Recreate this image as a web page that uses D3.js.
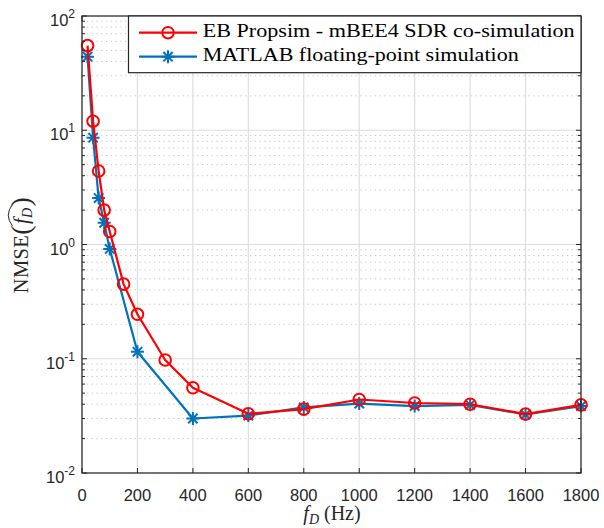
<!DOCTYPE html>
<html><head><meta charset="utf-8">
<script src="https://cdn.jsdelivr.net/npm/d3@7"></script>
<style>body{margin:0;background:#fff}</style>
</head><body>
<svg id="c" width="604" height="528"></svg>
<script>
const fD = [20, 40, 60, 80, 100, 150, 200, 300, 400, 600, 800, 1000, 1200, 1400, 1600, 1800];
const redVals = [55, 12, 4.4, 2.0, 1.30, 0.45, 0.245, 0.0975, 0.0557, 0.0330, 0.0362, 0.0440, 0.0410, 0.0400, 0.0328, 0.0395];
const blueVals = [44, 8.6, 2.55, 1.55, 0.915, null, 0.115, null, 0.0300, 0.0318, 0.0375, 0.0405, 0.0385, 0.0395, 0.0325, 0.0385];
const xTicks = [0, 200, 400, 600, 800, 1000, 1200, 1400, 1600, 1800];
const yExps = [-2, -1, 0, 1, 2];
const seriesNames = ["EB Propsim - mBEE4 SDR co-simulation", "MATLAB floating-point simulation"];

const svg = d3.select("#c");
const L = 82, R = 581, T = 16, B = 473;
const x = d3.scaleLinear().domain([0, 1800]).range([L, R]);
const y = d3.scaleLog().domain([0.01, 100]).range([B, T]);
const axisCol = "#262626";
const sans = "Liberation Sans, Arial, Helvetica, sans-serif";
const serif = "Liberation Serif, Times New Roman, serif";

// minor grid
const minorVals = [];
for (let e = -2; e < 2; e++) for (let k = 2; k <= 9; k++) minorVals.push(k * Math.pow(10, e));
svg.append("g").selectAll("line").data(minorVals).join("line")
  .attr("x1", L).attr("x2", R).attr("y1", d => y(d)).attr("y2", d => y(d))
  .attr("stroke", "#c8c8c8").attr("stroke-width", 1).attr("stroke-dasharray", "1.3,3.5");
// major grid
svg.append("g").selectAll("line").data(yExps.map(e => Math.pow(10, e))).join("line")
  .attr("x1", L).attr("x2", R).attr("y1", d => y(d)).attr("y2", d => y(d))
  .attr("stroke", "#dedede").attr("stroke-width", 1.2);
svg.append("g").selectAll("line").data(xTicks).join("line")
  .attr("x1", d => x(d)).attr("x2", d => x(d)).attr("y1", T).attr("y2", B)
  .attr("stroke", "#dedede").attr("stroke-width", 1.2);

// series
function drawMarker(g, cx, cy, color, marker) {
  if (marker === "o") {
    g.append("circle").attr("cx", cx).attr("cy", cy).attr("r", 5.8)
      .attr("fill", "none").attr("stroke", color).attr("stroke-width", 2);
  } else {
    const s = 6.5, d = s * 0.72;
    const p = `M${cx - s},${cy}L${cx + s},${cy}M${cx},${cy - s}L${cx},${cy + s}` +
      `M${cx - d},${cy - d}L${cx + d},${cy + d}M${cx - d},${cy + d}L${cx + d},${cy - d}`;
    g.append("path").attr("d", p).attr("stroke", color).attr("stroke-width", 2).attr("fill", "none");
  }
}
function drawSeries(vals, color, marker) {
  const pts = fD.map((f, i) => [f, vals[i]]).filter(p => p[1] != null);
  const line = d3.line().x(d => x(d[0])).y(d => y(d[1]));
  svg.append("path").datum(pts).attr("d", line).attr("fill", "none")
    .attr("stroke", color).attr("stroke-width", 2.2).attr("stroke-linejoin", "round");
  const g = svg.append("g");
  pts.forEach(p => drawMarker(g, x(p[0]), y(p[1]), color, marker));
}
drawSeries(blueVals, "#0072BD", "*");
drawSeries(redVals, "#FF0000", "o");

// axes frame and ticks
const ax = svg.append("g");
ax.append("rect").attr("x", L).attr("y", T).attr("width", R - L).attr("height", B - T)
  .attr("fill", "none").attr("stroke", axisCol).attr("stroke-width", 1.2);
xTicks.forEach(t => {
  ax.append("line").attr("x1", x(t)).attr("x2", x(t)).attr("y1", B).attr("y2", B - 5).attr("stroke", axisCol);
  ax.append("line").attr("x1", x(t)).attr("x2", x(t)).attr("y1", T).attr("y2", T + 5).attr("stroke", axisCol);
  ax.append("text").attr("x", x(t)).attr("y", 501).attr("text-anchor", "middle")
    .attr("font-family", sans).attr("font-size", 16.5).attr("fill", axisCol).text(t);
});
yExps.forEach(e => {
  const v = Math.pow(10, e);
  ax.append("line").attr("x1", L).attr("x2", L + 5).attr("y1", y(v)).attr("y2", y(v)).attr("stroke", axisCol);
  ax.append("line").attr("x1", R).attr("x2", R - 5).attr("y1", y(v)).attr("y2", y(v)).attr("stroke", axisCol);
  const t = ax.append("text").attr("x", L - 7).attr("y", y(v) + 10).attr("text-anchor", "end")
    .attr("font-family", sans).attr("font-size", 16.5).attr("fill", axisCol);
  t.append("tspan").text("10");
  t.append("tspan").attr("dy", -8).attr("font-size", 12).text(e);
});
minorVals.forEach(v => {
  ax.append("line").attr("x1", L).attr("x2", L + 3).attr("y1", y(v)).attr("y2", y(v)).attr("stroke", axisCol);
  ax.append("line").attr("x1", R).attr("x2", R - 3).attr("y1", y(v)).attr("y2", y(v)).attr("stroke", axisCol);
});

// legend
const lg = svg.append("g");
lg.append("rect").attr("x", 128.5).attr("y", T).attr("width", R - 128.5).attr("height", 56.7)
  .attr("fill", "#fff").attr("stroke", axisCol).attr("stroke-width", 1.2);
const legRows = [["#FF0000", "o", 32.7, 372], ["#0072BD", "*", 56.7, 316]];
legRows.forEach((s, i) => {
  lg.append("line").attr("x1", 139).attr("x2", 197).attr("y1", s[2]).attr("y2", s[2])
    .attr("stroke", s[0]).attr("stroke-width", 2.2);
  drawMarker(lg, 168, s[2], s[0], s[1]);
  lg.append("text").attr("x", 202.7).attr("y", s[2] + 4.5).attr("font-family", serif)
    .attr("font-size", 19.5).attr("fill", "#000")
    .attr("textLength", s[3]).attr("lengthAdjust", "spacingAndGlyphs").text(seriesNames[i]);
});

// x label
const xl = svg.append("text").attr("x", 332).attr("y", 520).attr("text-anchor", "middle")
  .attr("font-family", serif).attr("font-size", 20).attr("fill", axisCol);
xl.append("tspan").attr("font-style", "italic").text("f");
xl.append("tspan").attr("font-style", "italic").attr("font-size", 14).attr("dy", 4).text("D");
xl.append("tspan").attr("dy", -4).attr("dx", 5).text("(Hz)");

// y label
const yg = svg.append("g").attr("transform", "translate(28,245) rotate(-90)");
const yl = yg.append("text").attr("font-family", serif).attr("font-size", 20.5).attr("fill", axisCol)
  .attr("text-anchor", "middle").attr("letter-spacing", 0.4);
yl.append("tspan").text("NMSE");
yl.append("tspan").attr("font-size", 28).attr("dy", 2).text("(");
yl.append("tspan").attr("font-style", "italic").attr("dy", -2).attr("dx", 1).text("f");
yl.append("tspan").attr("font-style", "italic").attr("font-size", 14).attr("dy", 4).text("D");
yl.append("tspan").attr("font-size", 28).attr("dy", -2).attr("dx", 1).text(")");
// hat over f_D
const n = yl.node();
const iF = n.textContent.indexOf("f");
const s0 = n.getStartPositionOfChar(iF).x;
const e0 = n.getEndPositionOfChar(iF + 1).x;
const hx0 = s0 - 2, hx1 = e0 + 3, hy = -18;
yg.append("path").attr("d", `M${hx0},${hy + 2.5}Q${(hx0 + hx1) / 2},${hy - 6} ${hx1},${hy + 2.5}`)
  .attr("fill", "none").attr("stroke", axisCol).attr("stroke-width", 1);
</script>
</body></html>
